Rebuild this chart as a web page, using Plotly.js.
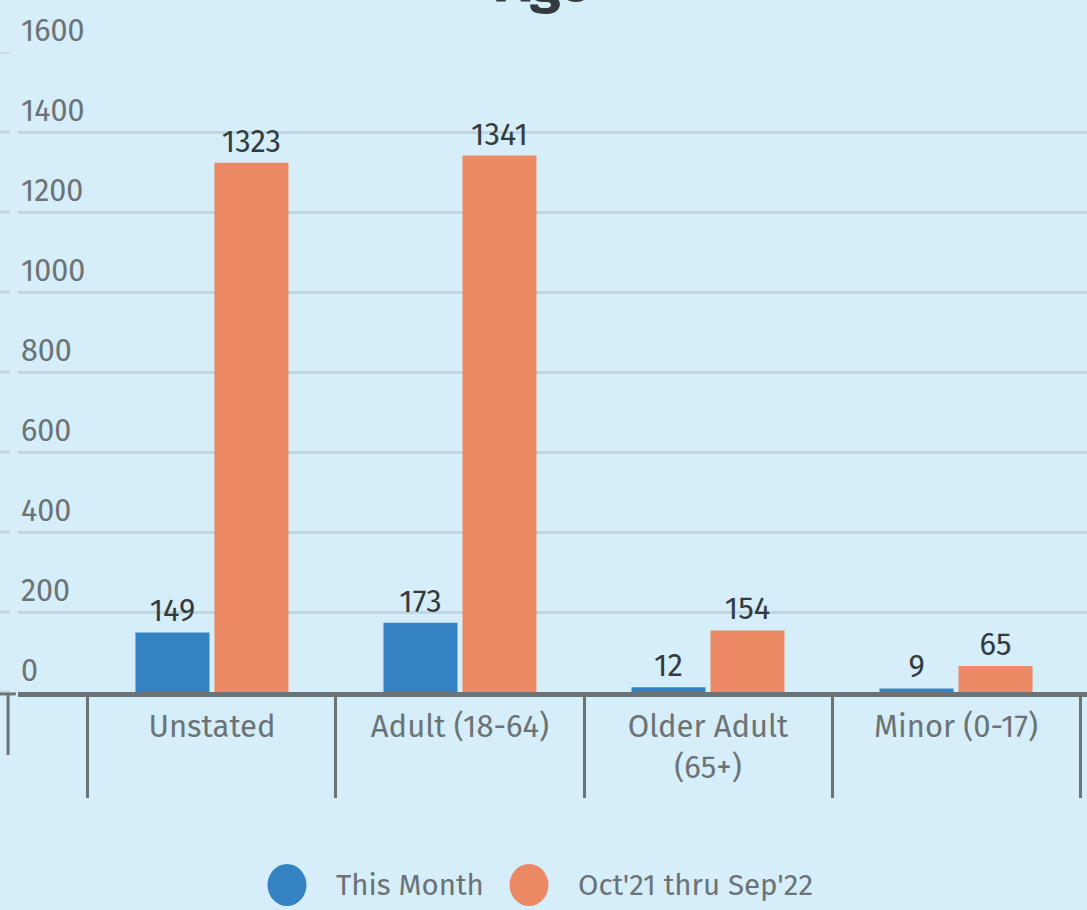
<!DOCTYPE html>
<html>
<head>
<meta charset="utf-8">
<script src="https://cdn.plot.ly/plotly-3.0.1.min.js"></script>
<style>
  html, body { margin: 0; padding: 0; background: #d6eefa; }
  #chart { width: 1087px; height: 910px; }
</style>
</head>
<body>
<div id="chart"></div>
<script>
const categories = ['Unstated', 'Adult (18-64)', 'Older Adult<br>(65+)', 'Minor (0-17)'];
const seriesNames = ['This Month', "Oct'21 thru Sep'22"];
const thisMonth = [149, 173, 12, 9];
const yearToDate = [1323, 1341, 154, 65];
const yTicks = [0, 200, 400, 600, 800, 1000, 1200, 1400, 1600];
const colors = ['#3583c3', '#ea8963'];

const FONT = 'Fira Sans, Roboto, sans-serif';
const axisGrey = '#6b7376';
const PLOT_H = 640;   // plot area height in px (bottom at 692)
const PLOT_W = 1069;

const traces = [thisMonth, yearToDate].map((vals, i) => ({
  type: 'bar',
  name: seriesNames[i],
  x: categories,
  y: vals,
  marker: { color: colors[i] },
  text: vals.map(String),
  textposition: 'outside',
  cliponaxis: false,
  textfont: { family: FONT, size: 31, color: '#333b3e' },
  showlegend: false,
  hoverinfo: 'x+y'
}));

const shapes = [];
// small grid stubs left of the plot area
yTicks.forEach(v => {
  shapes.push({ type: 'line', xref: 'paper', yref: 'y', x0: -0.0175, x1: -0.008, y0: v, y1: v,
    line: { color: '#c0d6e0', width: 3 }, layer: 'below' });
});
// stray axis fragment at far left
shapes.push({ type: 'line', xref: 'paper', yref: 'paper', x0: -0.0175, x1: -0.002, y0: -0.003, y1: -0.003,
  line: { color: axisGrey, width: 3 } });
shapes.push({ type: 'line', xref: 'paper', yref: 'paper', x0: -0.0093, x1: -0.0093, y0: -0.003, y1: -63 / PLOT_H,
  line: { color: axisGrey, width: 3 } });

// manual legend with large circles
const legendX = [287, 529];
const annotations = [];
legendX.forEach((cx, i) => {
  const px0 = (cx - 19.5 - 18) / PLOT_W, px1 = (cx + 19.5 - 18) / PLOT_W;
  shapes.push({ type: 'circle', xref: 'paper', yref: 'paper',
    x0: px0, x1: px1, y0: (692 - 906) / PLOT_H, y1: (692 - 864) / PLOT_H,
    fillcolor: colors[i], line: { width: 0 } });
  annotations.push({ xref: 'paper', yref: 'paper', x: (cx + 47 - 18) / PLOT_W, y: (692 - 885) / PLOT_H,
    xanchor: 'left', yanchor: 'middle', showarrow: false, text: seriesNames[i],
    font: { family: FONT, size: 29.5, color: axisGrey } });
});

const layout = {
  width: 1087, height: 910,
  paper_bgcolor: '#d6eefa',
  plot_bgcolor: '#d6eefa',
  margin: { l: 18, r: 0, t: 910 - 218 - PLOT_H, b: 218 },
  title: { text: '<b>Age</b>', x: 0.5, xanchor: 'center', y: 1, yref: 'container', yanchor: 'bottom',
    pad: { b: -1 },
    font: { family: FONT, size: 56, color: '#333b3e' } },
  barmode: 'group',
  bargap: 0.363,
  bargroupgap: 0.063,
  showlegend: false,
  xaxis: {
    type: 'category',
    range: [-0.782, 3.528],
    showgrid: false,
    showline: true, linecolor: axisGrey, linewidth: 5,
    ticks: 'outside', tickson: 'boundaries', ticklen: 101, tickwidth: 3, tickcolor: axisGrey,
    ticklabelstandoff: 3,
    tickfont: { family: FONT, size: 31, color: axisGrey },
    zeroline: false, fixedrange: true
  },
  yaxis: {
    range: [0, 1600],
    tickvals: yTicks,
    ticktext: yTicks.map(String),
    ticklabelposition: 'inside top',
    ticklabeloverflow: 'allow',
    tickfont: { family: FONT, size: 30.5, color: axisGrey },
    showgrid: true, gridcolor: '#c0d6e0', gridwidth: 3,
    zeroline: false, showline: false, ticks: '',
    fixedrange: true
  },
  shapes: shapes,
  annotations: annotations
};

Plotly.newPlot('chart', traces, layout, { displayModeBar: false });
</script>
</body>
</html>
